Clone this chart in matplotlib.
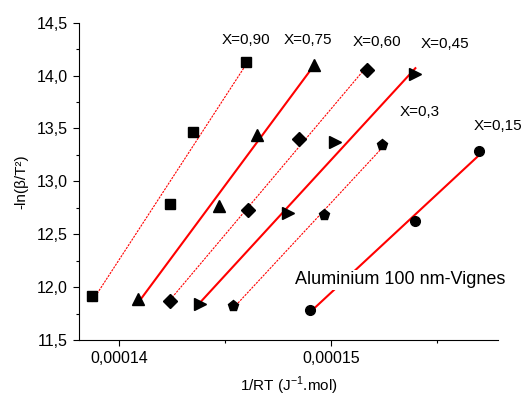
import numpy as np
import matplotlib
matplotlib.use("Agg")
import matplotlib.pyplot as plt
from matplotlib.ticker import FuncFormatter, MultipleLocator

plt.rcParams["font.family"] = ["Liberation Sans", "DejaVu Sans"]

# data: 1/RT and -ln(beta/T^2)
x_90 = [0.0001387, 0.0001424, 0.0001435, 0.0001460]
y_90 = [11.92, 12.785, 13.466, 14.128]

x_75 = [0.0001409, 0.0001447, 0.0001465, 0.0001492]
y_75 = [11.89, 12.767, 13.438, 14.096]

x_60 = [0.0001424, 0.0001461, 0.0001485, 0.0001517]
y_60 = [11.869, 12.729, 13.397, 14.049]

x_45 = [0.0001438, 0.0001480, 0.0001502, 0.0001540]
y_45 = [11.84, 12.697, 13.371, 14.017]

x_30 = [0.0001454, 0.0001497, 0.0001524]
y_30 = [11.821, 12.681, 13.340]

x_15 = [0.0001490, 0.0001540, 0.0001570]
y_15 = [11.781, 12.628, 13.283]

labels = ["X=0,90", "X=0,75", "X=0,60", "X=0,45", "X=0,3", "X=0,15"]
label_pos = [(0.0001460, 14.34), (0.0001489, 14.34), (0.0001522, 14.32),
             (0.0001554, 14.30), (0.0001542, 13.66), (0.0001579, 13.52)]

series = [
    (x_90, y_90, "s", 6.5, "dotted"),
    (x_75, y_75, "^", 8.5, "solid"),
    (x_60, y_60, "D", 7, "dotted"),
    (x_45, y_45, ">", 8.5, "solid"),
    (x_30, y_30, "p", 8, "dotted"),
    (x_15, y_15, "o", 7, "solid"),
]

fig = plt.figure(figsize=(5.23, 3.99), dpi=100)
ax = fig.add_axes([0.151, 0.148, 0.801, 0.795])

for xs, ys, marker, ms, style in series:
    xs = np.array(xs)
    ys = np.array(ys)
    slope, icpt = np.polyfit(xs, ys, 1)
    fx = np.array([xs.min(), xs.max()])
    if style == "solid":
        ax.plot(fx, slope * fx + icpt, color="red", lw=1.5, zorder=2)
    else:
        ax.plot(fx, slope * fx + icpt, color="red", lw=0.8,
                linestyle=(0, (2, 1)), zorder=2)
    ax.plot(xs, ys, linestyle="none", marker=marker, markersize=ms,
            color="black", zorder=3)

for text, (tx, ty) in zip(labels, label_pos):
    ax.text(tx, ty, text, fontsize=11, ha="center", va="center")

ax.text(0.0001533, 12.07, "Aluminium 100 nm-Vignes", fontsize=13,
        ha="center", va="center", zorder=4,
        bbox=dict(facecolor="white", edgecolor="none", pad=1))

ax.set_xlim(0.0001381, 0.0001579)
ax.set_ylim(11.5, 14.5)

ax.xaxis.set_major_locator(MultipleLocator(0.00001))
ax.xaxis.set_minor_locator(MultipleLocator(0.000005))
ax.yaxis.set_major_locator(MultipleLocator(0.5))
ax.yaxis.set_minor_locator(MultipleLocator(0.25))
ax.xaxis.set_major_formatter(FuncFormatter(lambda v, p: f"{v:.5f}".replace(".", ",")))
ax.yaxis.set_major_formatter(FuncFormatter(lambda v, p: f"{v:.1f}".replace(".", ",")))

ax.spines["top"].set_visible(False)
ax.spines["right"].set_visible(False)
ax.tick_params(axis="both", which="major", direction="out", length=4.5,
               width=0.8, labelsize=11.5)
ax.tick_params(axis="both", which="minor", direction="out", length=2.5, width=0.8)

ax.set_xlabel("1/RT (J$^{\\mathregular{-1}}$.mol)", fontsize=11, labelpad=6)
ax.set_ylabel("-ln(β/T²)", fontsize=11, labelpad=6)

fig.savefig("out.png", dpi=100)
